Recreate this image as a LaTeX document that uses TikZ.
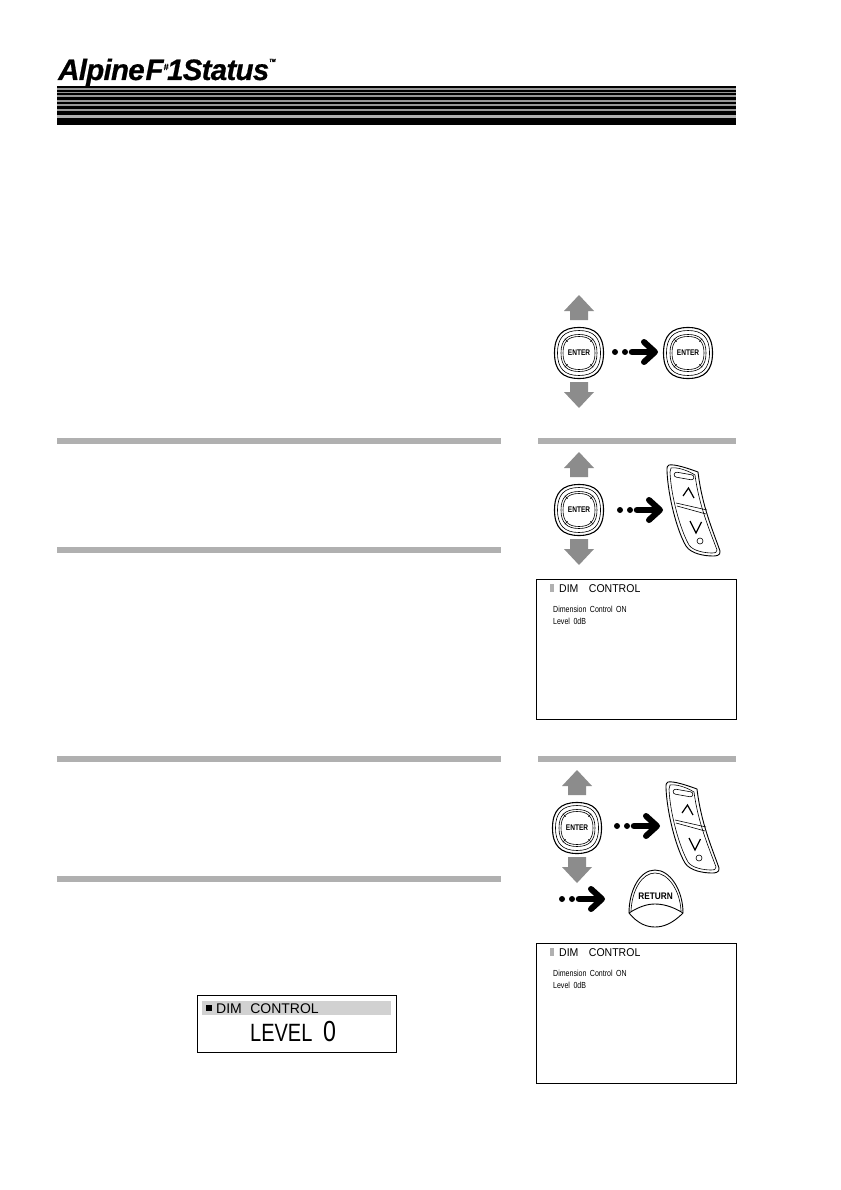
\documentclass[tikz,border=0pt]{standalone}
\usepackage{fontspec}
\setmainfont{Liberation Sans}
\newcommand{\fs}[1]{\fontsize{#1}{#1}\selectfont}
\definecolor{arrowgray}{gray}{0.55}
\definecolor{bargray}{gray}{0.69}
\definecolor{bandgray}{gray}{0.82}
\newcommand{\squircle}[2]{(0,-#2) .. controls (0.68*#1,-#2) and (#1,-0.68*#2) .. (#1,0) .. controls (#1,0.68*#2) and (0.68*#1,#2) .. (0,#2) .. controls (-0.68*#1,#2) and (-#1,0.68*#2) .. (-#1,0) .. controls (-#1,-0.68*#2) and (-0.68*#1,-#2) .. (0,-#2) -- cycle}
\tikzset{
  x=1pt,y=-1pt,
  outline/.style={draw=black,line width=0.9pt},
  thinline/.style={draw=black,line width=0.6pt},
  bar/.style={fill=bargray,draw=none},
  screen/.style={draw=black,line width=0.9pt,fill=white},
  pics/enterkey/.style={code={
    \draw[line width=1.1pt] \squircle{24.5}{25.5};
    \draw[thinline] \squircle{21.5}{22.5};
    \draw[thinline] \squircle{18}{18.5};
    \draw[thinline] \squircle{16}{16.5};
    \foreach \a in {45,135,225,315}{\draw[line width=0.5pt] (\a:16) -- (\a:20);}
    \node[xscale=0.8] at (0,0) {\fs{8.2}\bfseries ENTER};
  }},
  pics/moveupdown/.style={code={
    \fill[arrowgray] (0,-58) -- (15,-42) -- (9,-42) -- (9,-33) -- (-9,-33) -- (-9,-42) -- (-15,-42) -- cycle;
    \fill[arrowgray] (0,55) -- (15,39) -- (9,39) -- (9,29) -- (-9,29) -- (-9,39) -- (-15,39) -- cycle;
  }},
  pics/dotarrow/.style={code={
    \fill (-42,0) circle (3);
    \fill (-32,0) circle (3);
    \draw[line width=6.5pt,line cap=round] (-25,0) -- (-4,0);
    \draw[line width=6pt,line cap=round,line join=round] (-13,-10) -- (-2,0) -- (-13,10);
  }},
  pics/updownkey/.style={code={
    \draw[outline] (-26,-46) .. controls (-20,-47) and (-8,-43) .. (3,-39) .. controls (7,-5) and (18,20) .. (25,40) .. controls (26,45) and (20,45) .. (18,45) .. controls (10,45) and (-4,43) .. (-9,35) .. controls (-18,20) and (-27,-15) .. (-28,-40) .. controls (-28,-44) and (-28,-45) .. (-26,-46) -- cycle;
    \draw[thinline] (-24,-43) .. controls (-18,-44) and (-8,-41) .. (0,-36) .. controls (4,-5) and (15,20) .. (22,39) .. controls (22,42) and (20,42) .. (17,42) .. controls (10,42) and (-2,40) .. (-6,34) .. controls (-15,18) and (-24,-15) .. (-25,-39) -- cycle;
    \draw[thinline] (-19,-8) -- (12,-1);
    \draw[thinline] (-18,-5) -- (11,3);
    \draw[thinline,rounded corners=2.5pt,shift={(-11,-35)},rotate=-10] (-10,-2.5) rectangle (10,2.5);
    \draw[line width=1.2pt] (-12,-15) -- (-6.5,-23) -- (-1,-13);
    \draw[line width=1.2pt] (-5,10) -- (1,22) -- (6.5,11);
    \draw[thinline] (5,30) circle (3);
  }},
  pics/dimscreen/.style={code={
    \draw[screen] (0,0) rectangle (200,140);
    \fill[bargray] (14,5) rectangle (18,13);
    \node[anchor=west,inner sep=0pt,xscale=0.93] at (23,9.5) {\fs{11.3}DIM\hspace{1em}CONTROL};
    \node[anchor=west,inner sep=0pt,xscale=0.8] at (17,30.5) {\fs{8.8}Dimension\hspace{0.5em}Control\hspace{0.5em}ON};
    \node[anchor=west,inner sep=0pt,xscale=0.8] at (17,42) {\fs{8.8}Level\hspace{0.5em}0dB};
  }}
}
\begin{document}
\begin{tikzpicture}
\useasboundingbox (0,0) rectangle (840,1190);
\fill[white] (0,0) rectangle (840,1190);
% logo
\node[anchor=base west,inner sep=0pt] (logo) at (58,80) {\fs{29.5}\bfseries\itshape\addfontfeature{LetterSpace=-2.5,FakeBold=0.6}Alpine\hspace{0.03em}F\raisebox{10pt}{\fs{9}\#}\hspace{-0.05em}1Status\raisebox{18pt}{\fs{4.5}TM}};
% header stripes
\fill[black] (57,86) rectangle (736,125);
\foreach \yy/\hh in {88.5/1.2,92/1.4,95.5/1.6,100/1.7,104.5/1.8,109.5/2}{\fill[gray!80!white] (57,\yy) rectangle (736,\yy+\hh);}
\fill[bargray] (57,115) rectangle (736,118);
% section bars
\fill[bar] (57,437.5) rectangle (501,443.5);
\fill[bar] (57,547) rectangle (501,553);
\fill[bar] (57,756) rectangle (501,762);
\fill[bar] (57,876) rectangle (501,882);
\fill[bar] (538,438) rectangle (736,444);
\fill[bar] (538,756) rectangle (736,762);
% row 1
\pic at (579,353) {moveupdown};
\pic at (579,353) {enterkey};
\pic at (657,352) {dotarrow};
\pic at (688,353) {enterkey};
% row 2
\pic at (579,510) {moveupdown};
\pic at (579,510) {enterkey};
\pic at (662,510) {dotarrow};
\pic at (695,511) {updownkey};
\pic at (536,579) {dimscreen};
% row 3
\pic at (577,828) {moveupdown};
\pic at (577,828) {enterkey};
\pic at (659,826) {dotarrow};
\pic at (694,828) {updownkey};
\pic at (604,899) {dotarrow};
% return key
\draw[outline] (629,913) .. controls (629,890) and (640,870) .. (655,870) .. controls (670,870) and (683,890) .. (683,913) .. controls (672,924) and (663,927) .. (655,927) .. controls (647,927) and (638,924) .. (629,913) -- cycle;
\draw[thinline] (631,911) .. controls (632,890) and (642,873) .. (655,873) .. controls (668,873) and (680,890) .. (681,911);
\draw[outline] (629,913) .. controls (640,906) and (648,904) .. (655,904) .. controls (662,904) and (672,906) .. (683,913);
\node[xscale=0.87] (ret) at (655.5,896) {\fs{9.5}\bfseries RETURN};
\pic at (536,943) {dimscreen};
% LCD
\draw[screen] (197,995) rectangle (396,1052);
\fill[bandgray] (202,1001) rectangle (391,1015);
\fill[black] (206,1005) rectangle (212,1011);
\node[anchor=west,inner sep=0pt] (lcdtitle) at (216,1008.5) {\fs{14}DIM\hspace{0.6em}CONTROL};
\node[anchor=west,inner sep=0pt,xscale=0.8] (lcdlevel) at (250,1033) {\fs{25}LEVEL};
\node[anchor=west,inner sep=0pt,xscale=0.8] (lcdzero) at (323,1032) {\fs{29}0};
\end{tikzpicture}
\end{document}
